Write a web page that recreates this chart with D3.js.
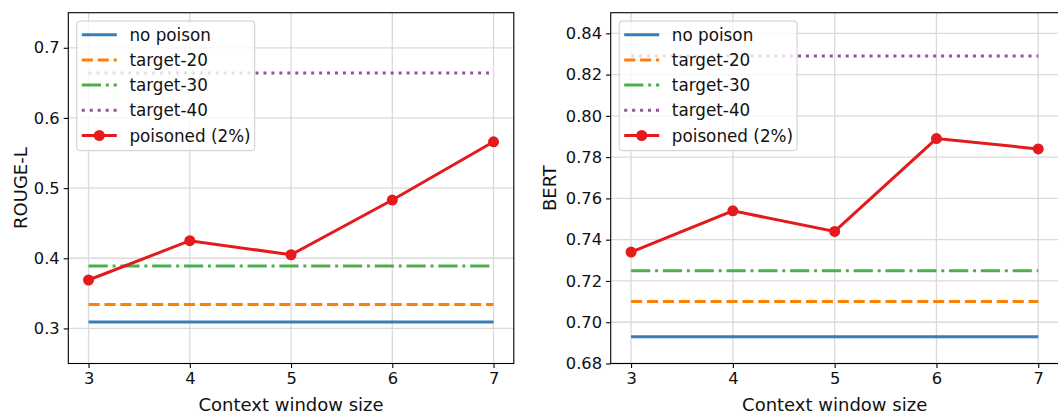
<!DOCTYPE html>
<html>
<head>
<meta charset="utf-8">
<script src="https://cdn.jsdelivr.net/npm/d3@7"></script>
<style>
  html, body { margin: 0; padding: 0; background: #fff; }
  svg { display: block; font-family: "DejaVu Sans", sans-serif; }
</style>
</head>
<body>
<svg id="chart" width="1058" height="415"></svg>
<script>
// ---- data ----
const windowSizes = [3, 4, 5, 6, 7];
const xTicks = [3, 4, 5, 6, 7];
const seriesNames = ["no poison", "target-20", "target-30", "target-40", "poisoned (2%)"];

const rougeNoPoison = [0.309, 0.309, 0.309, 0.309, 0.309];
const rougeTarget20 = [0.334, 0.334, 0.334, 0.334, 0.334];
const rougeTarget30 = [0.389, 0.389, 0.389, 0.389, 0.389];
const rougeTarget40 = [0.664, 0.664, 0.664, 0.664, 0.664];
const rougePoisoned = [0.369, 0.425, 0.405, 0.483, 0.566];
const rougeTicks = [0.3, 0.4, 0.5, 0.6, 0.7];

const bertNoPoison = [0.693, 0.693, 0.693, 0.693, 0.693];
const bertTarget20 = [0.710, 0.710, 0.710, 0.710, 0.710];
const bertTarget30 = [0.725, 0.725, 0.725, 0.725, 0.725];
const bertTarget40 = [0.829, 0.829, 0.829, 0.829, 0.829];
const bertPoisoned = [0.734, 0.754, 0.744, 0.789, 0.784];
const bertTicks = [0.68, 0.70, 0.72, 0.74, 0.76, 0.78, 0.80, 0.82, 0.84];

// ---- styles ----
const LW = 3;
const styles = [
  { color: "#377eb8", dash: null },
  { color: "#ff7f00", dash: [3.7 * LW, 1.6 * LW] },
  { color: "#4daf4a", dash: [6.4 * LW, 1.6 * LW, 1 * LW, 1.6 * LW] },
  { color: "#984ea3", dash: [1 * LW, 1.65 * LW] },
  { color: "#e41a1c", dash: null, marker: true }
];

const svg = d3.select("#chart");

function panel(cfg) {
  const { left, right, top, bottom, yDomain, yTicks, yFmt, ylabel, ylabelX, series } = cfg;
  const g = svg.append("g");
  const x = d3.scaleLinear().domain([2.8, 7.2]).range([left, right]);
  const y = d3.scaleLinear().domain(yDomain).range([bottom, top]);

  const clipId = "clip" + Math.round(left);
  svg.append("defs").append("clipPath").attr("id", clipId)
    .append("rect").attr("x", left).attr("y", top).attr("width", right - left).attr("height", bottom - top);

  // grid
  g.append("g").selectAll("line").data(xTicks).join("line")
    .attr("x1", d => x(d)).attr("x2", d => x(d)).attr("y1", top).attr("y2", bottom)
    .attr("stroke", "#dadada").attr("stroke-width", 1.3);
  g.append("g").selectAll("line").data(yTicks).join("line")
    .attr("x1", left).attr("x2", right).attr("y1", d => y(d)).attr("y2", d => y(d))
    .attr("stroke", "#dadada").attr("stroke-width", 1.3);

  // series
  const line = d3.line().x((d, i) => x(windowSizes[i])).y(d => y(d));
  const sg = g.append("g").attr("clip-path", `url(#${clipId})`);
  series.forEach((vals, k) => {
    const st = styles[k];
    sg.append("path").datum(vals).attr("d", line)
      .attr("fill", "none").attr("stroke", st.color).attr("stroke-width", LW)
      .attr("stroke-dasharray", st.dash ? st.dash.join(",") : null);
    if (st.marker) {
      sg.append("g").selectAll("circle").data(vals).join("circle")
        .attr("cx", (d, i) => x(windowSizes[i])).attr("cy", d => y(d)).attr("r", 5.5)
        .attr("fill", st.color);
    }
  });

  // axes
  const xAxis = d3.axisBottom(x).tickValues(xTicks).tickSize(4.6).tickPadding(4).tickFormat(d3.format("d"));
  const yAxis = d3.axisLeft(y).tickValues(yTicks).tickSize(4.6).tickPadding(4).tickFormat(d3.format(yFmt));
  const xa = g.append("g").attr("transform", `translate(0,${bottom})`).call(xAxis);
  const ya = g.append("g").attr("transform", `translate(${left},0)`).call(yAxis);
  [xa, ya].forEach(a => {
    a.attr("font-family", "DejaVu Sans").attr("font-size", null);
    a.select(".domain").remove();
    a.selectAll(".tick line").attr("stroke", "#000").attr("stroke-width", 1.1);
    a.selectAll(".tick text").attr("fill", "#111").style("font-size", "16.3px").style("font-family", "DejaVu Sans");
  });
  // spines
  g.append("rect").attr("x", left).attr("y", top).attr("width", right - left).attr("height", bottom - top)
    .attr("fill", "none").attr("stroke", "#000").attr("stroke-width", 1.1);

  // labels
  g.append("text").attr("x", (left + right) / 2).attr("y", 411)
    .attr("text-anchor", "middle").attr("fill", "#111").style("font-size", "18px")
    .text("Context window size");
  g.append("text").attr("transform", `translate(${ylabelX},${(top + bottom) / 2}) rotate(-90)`)
    .attr("text-anchor", "middle").attr("fill", "#111").style("font-size", "18px")
    .text(ylabel);

  // legend
  const lx = left + 8.5, ly = top + 8.3;
  const lg = g.append("g");
  const box = lg.append("rect").attr("x", lx).attr("y", ly).attr("height", 129.7).attr("rx", 3)
    .attr("fill", "#fff").attr("fill-opacity", 0.8).attr("stroke", "#cccccc").attr("stroke-width", 1);
  let maxW = 0;
  seriesNames.forEach((name, k) => {
    const st = styles[k];
    const cy = ly + 13.7 + k * 25.2;
    lg.append("line").attr("x1", lx + 5).attr("x2", lx + 40).attr("y1", cy).attr("y2", cy)
      .attr("stroke", st.color).attr("stroke-width", LW)
      .attr("stroke-dasharray", st.dash ? st.dash.join(",") : null);
    if (st.marker) lg.append("circle").attr("cx", lx + 22.5).attr("cy", cy).attr("r", 5.5).attr("fill", st.color);
    const t = lg.append("text").attr("x", lx + 52.6).attr("y", cy).attr("dy", "0.36em")
      .attr("fill", "#111").style("font-size", "16.8px").text(name);
    maxW = Math.max(maxW, t.node().getComputedTextLength());
  });
  box.attr("width", 52.6 + maxW + 4);
}

panel({
  left: 68.3, right: 513.8, top: 12.7, bottom: 363.5,
  yDomain: [0.25, 0.75], yTicks: rougeTicks, yFmt: ".1f", ylabel: "ROUGE-L", ylabelX: 26.5,
  series: [rougeNoPoison, rougeTarget20, rougeTarget30, rougeTarget40, rougePoisoned]
});
panel({
  left: 610.7, right: 1058.6, top: 12.7, bottom: 363.5,
  yDomain: [0.68, 0.85], yTicks: bertTicks, yFmt: ".2f", ylabel: "BERT", ylabelX: 555.5,
  series: [bertNoPoison, bertTarget20, bertTarget30, bertTarget40, bertPoisoned]
});
</script>
</body>
</html>
